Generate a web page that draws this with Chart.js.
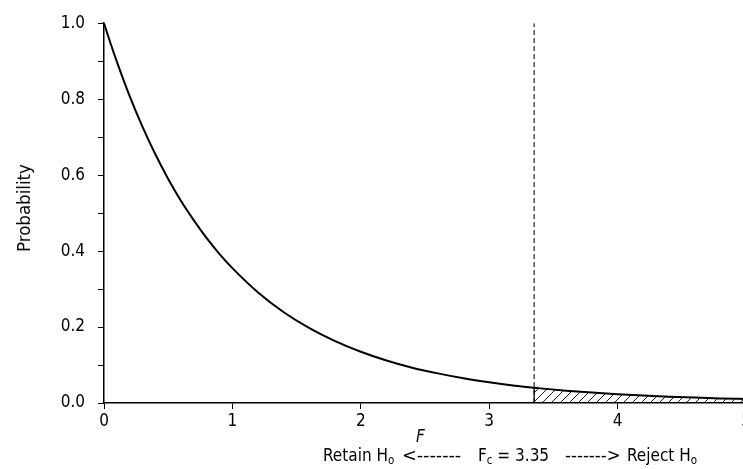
<!DOCTYPE html>
<html><head><meta charset="utf-8">
<script src="https://cdn.jsdelivr.net/npm/chart.js@4"></script>
<style>
html,body{margin:0;padding:0;background:#fff;overflow:hidden;}
#wrap{position:relative;width:743px;height:469px;overflow:hidden;background:#fff;}
#c{position:absolute;left:0;top:0;}
.t{position:absolute;font-family:"DejaVu Sans Condensed","DejaVu Sans";font-size:17px;color:#000;white-space:pre;line-height:18px;}
.t sub{font-size:11.5px;vertical-align:-3px;line-height:0;}
#ylab{left:24px;top:208px;font-size:18.5px;line-height:20px;transform:translate(-50%,-50%) rotate(-90deg);}
.dash{transform-origin:0 50%;}
</style></head><body>
<div id="wrap">
<canvas id="c" width="770" height="469" style="width:770px;height:469px"></canvas>
<div class="t" id="ylab">Probability</div>
<div class="t" style="left:416px;top:427px;font-style:italic;font-size:17px">F</div>
<div class="t" style="left:323px;top:446px">Retain H<sub>o</sub></div>
<div class="t dash" style="left:402px;top:446px;transform:scaleX(1.15)">&lt;-------</div>
<div class="t" style="left:478px;top:446px">F<sub>c</sub> = 3.35</div>
<div class="t dash" style="left:565px;top:446px;transform:scaleX(1.08)">-------&gt;</div>
<div class="t" style="left:627px;top:446px">Reject H<sub>o</sub></div>
</div>
<script>
// F values and probability density
const fValues = [0, 0.05, 0.1, 0.2, 0.3, 0.4, 0.5, 0.6, 0.7, 0.8, 0.9, 1.0, 1.2, 1.4, 1.6, 1.8, 2.0, 2.2, 2.4, 2.6, 2.8, 3.0, 3.2, 3.35, 3.4, 3.6, 3.8, 4.0, 4.2, 4.4, 4.6, 4.8, 5.0];
const probValues = [1.000, 0.948, 0.899, 0.808, 0.727, 0.655, 0.590, 0.532, 0.481, 0.434, 0.392, 0.355, 0.291, 0.239, 0.197, 0.163, 0.135, 0.112, 0.093, 0.078, 0.065, 0.0545, 0.0457, 0.0402, 0.0385, 0.0325, 0.0274, 0.0232, 0.0197, 0.0167, 0.0142, 0.0121, 0.0104];
// critical value
const criticalF = 3.35;
const criticalProb = 0.0402;
// tick labels
const xTickLabels = ['0', '1', '2', '3', '4', '5'];
const yTickLabels = ['0.0', '0.2', '0.4', '0.6', '0.8', '1.0'];

const curvePts = fValues.map((x, i) => ({x, y: probValues[i]}));
const tailPts = curvePts.filter(p => p.x >= criticalF);

function hatchPattern() {
  const s = 9;
  const cv = document.createElement('canvas');
  cv.width = s; cv.height = s;
  const g = cv.getContext('2d');
  g.strokeStyle = '#000';
  g.lineWidth = 0.9;
  g.beginPath();
  g.moveTo(0, s); g.lineTo(s, 0);
  g.moveTo(-1, 1); g.lineTo(1, -1);
  g.moveTo(s - 1, s + 1); g.lineTo(s + 1, s - 1);
  g.stroke();
  return g.createPattern(cv, 'repeat');
}

const font = {family: 'DejaVu Sans Condensed, DejaVu Sans', size: 17};
new Chart(document.getElementById('c'), {
  type: 'scatter',
  data: {
    datasets: [
      {data: tailPts, showLine: true, fill: 'origin', backgroundColor: hatchPattern(), borderWidth: 0, pointRadius: 0, cubicInterpolationMode: 'monotone'},
      {data: curvePts, showLine: true, borderColor: '#000', borderWidth: 2, pointRadius: 0, fill: false, cubicInterpolationMode: 'monotone'},
      {data: [{x: criticalF, y: 0}, {x: criticalF, y: 1.0}], showLine: true, borderColor: '#000', borderWidth: 1, borderDash: [5, 3], pointRadius: 0, fill: false},
      {data: [{x: criticalF, y: 0}, {x: criticalF, y: criticalProb}], showLine: true, borderColor: '#000', borderWidth: 1.2, pointRadius: 0, fill: false}
    ]
  },
  options: {
    responsive: false,
    animation: false,
    layout: {padding: {left: 0, top: 17, right: 24, bottom: 0}},
    plugins: {legend: {display: false}, tooltip: {enabled: false}},
    scales: {
      x: {
        type: 'linear', min: 0, max: 5,
        afterFit: s => { s.height = 66; },
        ticks: {stepSize: 1, color: '#000', font, padding: 2, maxRotation: 0,
          callback: (v) => { const i = Math.round(v); return Math.abs(v - i) < 1e-6 ? xTickLabels[i] : ''; }},
        grid: {drawOnChartArea: false, drawTicks: true, tickLength: 6, color: '#000', lineWidth: 1},
        border: {color: '#000', width: 1.5}
      },
      y: {
        min: 0, max: 1,
        afterFit: s => { s.width = 104; },
        ticks: {stepSize: 0.1, color: '#000', font, padding: 13,
          callback: (v) => { const k = Math.round(v * 10); return k % 2 === 0 ? yTickLabels[k / 2] : ''; }},
        grid: {drawOnChartArea: false, drawTicks: true, tickLength: 6, color: '#000', lineWidth: 1},
        border: {color: '#000', width: 1.5}
      }
    }
  }
});
</script>
</body></html>
